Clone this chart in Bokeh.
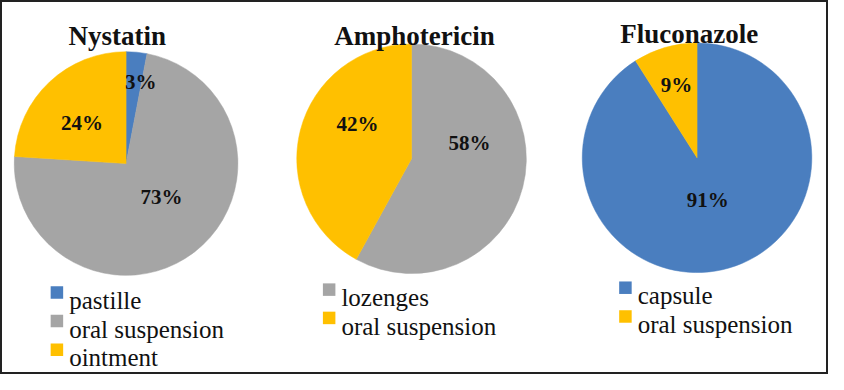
import math
from bokeh.plotting import figure
from bokeh.models import Range1d, ColumnDataSource
from bokeh.core.properties import value
from bokeh.embed import file_html
from bokeh.resources import INLINE

# ---- data ----
titles = ["Nystatin", "Amphotericin", "Fluconazole"]
nystatin_cats = ["pastille", "oral suspension", "ointment"]
nystatin_vals = [3, 73, 24]
ampho_cats = ["lozenges", "oral suspension"]
ampho_vals = [58, 42]
fluco_cats = ["capsule", "oral suspension"]
fluco_vals = [91, 9]

BLUE = "#4a7ebf"
GRAY = "#a5a5a5"
GOLD = "#ffc000"
nystatin_cols = [BLUE, GRAY, GOLD]
ampho_cols = [GRAY, GOLD]
fluco_cols = [BLUE, GOLD]

# ---- layout (reference pixel coordinates, y downwards) ----
W, H = 844, 390
def Y(py):
    return H - py

charts = [
    dict(title=titles[0], cats=nystatin_cats, vals=nystatin_vals, cols=nystatin_cols,
         cx=128, cy=170, r=114, tx=119, ty=37,
         lab=[(143, 85), (164, 205), (83, 128)],
         lx=57.5, ly=304.5, ldy=29.8),
    dict(title=titles[1], cats=ampho_cats, vals=ampho_vals, cols=ampho_cols,
         cx=419, cy=165, r=117, tx=422, ty=37,
         lab=[(478, 149), (364, 129)],
         lx=335, ly=301.5, ldy=29.5),
    dict(title=titles[2], cats=fluco_cats, vals=fluco_vals, cols=fluco_cols,
         cx=710, cy=164, r=117, tx=702, ty=35,
         lab=[(721, 208), (689, 88)],
         lx=637, ly=299.5, ldy=30),
]

p = figure(width=828, height=374, output_backend="svg", toolbar_location=None,
           x_range=Range1d(0, W), y_range=Range1d(0, H),
           min_border=0)
p.axis.visible = False
p.grid.visible = False
p.outline_line_color = "#222222"
p.outline_line_width = 3
p.background_fill_color = "white"

FONT = value("'Liberation Serif', 'DejaVu Serif', serif")

for c in charts:
    total = sum(c["vals"])
    cum = 0
    starts, ends = [], []
    for v in c["vals"]:
        a0 = math.pi / 2 - 2 * math.pi * cum / total
        cum += v
        a1 = math.pi / 2 - 2 * math.pi * cum / total
        starts.append(a0)
        ends.append(a1)
    src = ColumnDataSource(dict(x=[c["cx"]] * len(c["vals"]), y=[Y(c["cy"])] * len(c["vals"]),
                                s=starts, e=ends, col=c["cols"]))
    p.wedge(x="x", y="y", radius=c["r"], start_angle="s", end_angle="e",
            direction="clock", fill_color="col", line_color="col", line_width=0.5, source=src)

    # slice labels
    labs = ["%d%%" % v for v in c["vals"]]
    p.text(x=[q[0] for q in c["lab"]], y=[Y(q[1]) for q in c["lab"]], text=labs,
           text_font=FONT, text_font_style="bold", text_font_size="21px",
           text_align="center", text_baseline="middle", text_color="#111111")

    # title
    p.text(x=[c["tx"]], y=[Y(c["ty"])], text=[c["title"]], text_font=FONT,
           text_font_style="bold", text_font_size="27px", text_align="center",
           text_baseline="alphabetic", text_color="#111111")

    # legend
    n = len(c["cats"])
    ys = [c["ly"] + i * c["ldy"] for i in range(n)]
    p.scatter(x=[c["lx"]] * n, y=[Y(v) for v in ys], marker="square", size=12.5,
              fill_color=c["cols"], line_color=None)
    p.text(x=[c["lx"] + 12.5] * n, y=[Y(v + 8.5) for v in ys], text=c["cats"],
           text_font=FONT, text_font_size="25px", text_align="left",
           text_baseline="alphabetic", text_color="#111111")

open("out.html", "w").write(file_html(p, INLINE))
